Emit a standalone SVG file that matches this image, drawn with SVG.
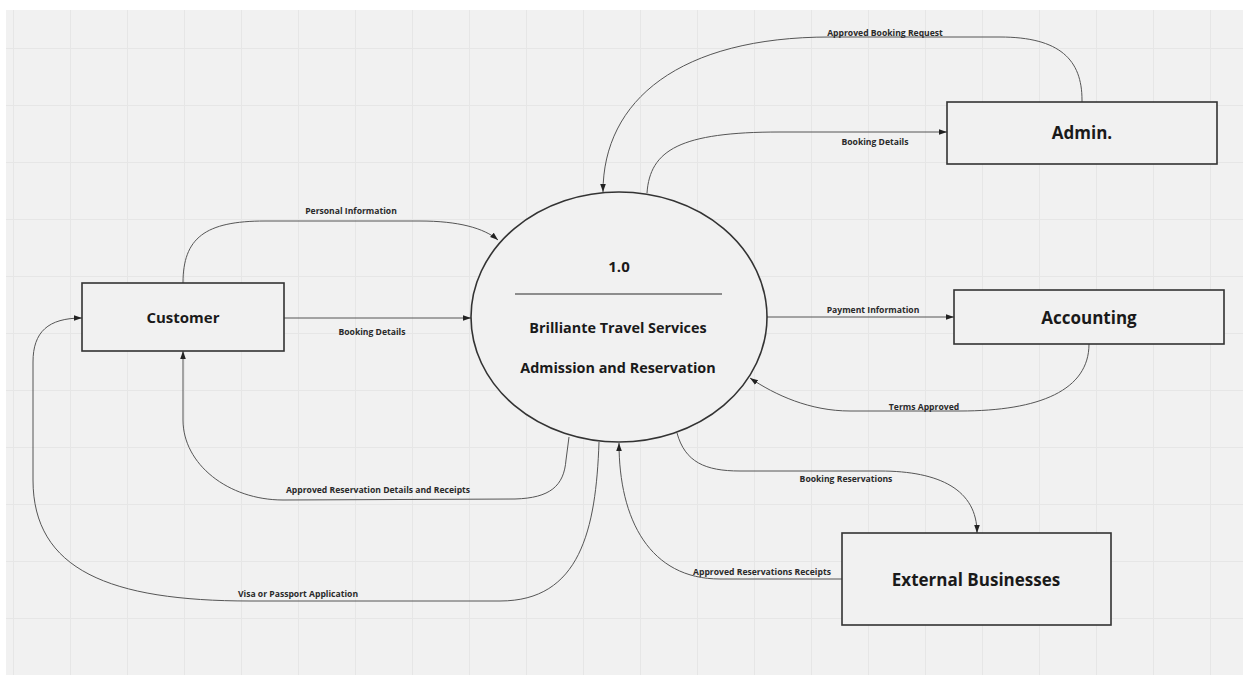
<svg xmlns="http://www.w3.org/2000/svg" width="1243" height="677" viewBox="0 0 1243 677">
  <defs>
    <pattern id="grid" x="13" y="48" width="57" height="57" patternUnits="userSpaceOnUse">
      <path d="M0.5,0 V57 M0,0.5 H57" fill="none" stroke="#e6e6e6" stroke-width="1"/>
    </pattern>
    <marker id="arrow" viewBox="0 0 10 10" refX="10" refY="5" markerWidth="8" markerHeight="8" markerUnits="userSpaceOnUse" orient="auto">
      <path d="M0,1.5 L10,5 L0,8.5 Z" fill="#222"/>
    </marker>
    <style>
      .node { fill: #f1f1f1; stroke: #333; stroke-width: 1.6; }
      .title { font-family: "Open Sans", "Liberation Sans", sans-serif; font-weight: 700; fill: #1a1a1a; text-anchor: middle; }
      .flow { fill: none; stroke: #555; stroke-width: 1; }
      .label { font-family: "Open Sans", "Liberation Sans", sans-serif; font-weight: 700; font-size: 8.6px; fill: #2a2a2a; text-anchor: middle; }
    </style>
  </defs>

  <!-- canvas -->
  <rect x="0" y="0" width="1243" height="677" fill="#ffffff"/>
  <rect x="6" y="10" width="1237" height="665" fill="#f1f1f1"/>
  <rect x="6" y="10" width="1237" height="665" fill="url(#grid)"/>

  <!-- data flows -->
  <g id="connectors">
    <!-- Customer -> process: Personal Information -->
    <path class="flow" marker-end="url(#arrow)" d="M183,283 C183,238 205,221 265,221 L420,221 C458,221 484,228 498,240"/>
    <text class="label" x="351" y="214">Personal Information</text>

    <!-- Customer -> process: Booking Details -->
    <path class="flow" marker-end="url(#arrow)" d="M284,318 L471,318"/>
    <text class="label" x="372" y="335">Booking Details</text>

    <!-- Admin -> process: Approved Booking Request -->
    <path class="flow" marker-end="url(#arrow)" d="M1082,102 L1082,100 C1082,60 1060,37 1000,37 L830,37 C680,37 603,100 603,192"/>
    <text class="label" x="885" y="36">Approved Booking Request</text>

    <!-- process -> Admin: Booking Details -->
    <path class="flow" marker-end="url(#arrow)" d="M647,193 C650,150 680,132 780,132 L947,132"/>
    <text class="label" x="875" y="145">Booking Details</text>

    <!-- process -> Accounting: Payment Information -->
    <path class="flow" marker-end="url(#arrow)" d="M767,317 L954,317"/>
    <text class="label" x="873" y="313">Payment Information</text>

    <!-- Accounting -> process: Terms Approved -->
    <path class="flow" marker-end="url(#arrow)" d="M1089,344 C1089,390 1040,411 960,411 L850,411 C810,411 775,395 750,378"/>
    <text class="label" x="924" y="410">Terms Approved</text>

    <!-- process -> Customer: Approved Reservation Details and Receipts -->
    <path class="flow" marker-end="url(#arrow)" d="M569,437 L566,460 C564,486 550,498 515,499 L283,500 C228,500 183,464 183,420 L183,351"/>
    <text class="label" x="378" y="493">Approved Reservation Details and Receipts</text>

    <!-- process -> Customer: Visa or Passport Application -->
    <path class="flow" marker-end="url(#arrow)" d="M599,442 C596,530 580,601 500,601 L250,601 C110,601 33,570 33,480 L33,362 C33,332 48,318 82,318"/>
    <text class="label" x="298" y="597">Visa or Passport Application</text>

    <!-- External Businesses -> process: Approved Reservations Receipts -->
    <path class="flow" marker-end="url(#arrow)" d="M842,579 L720,579 C650,579 619,520 619,443"/>
    <text class="label" x="762" y="575">Approved Reservations Receipts</text>

    <!-- process -> External Businesses: Booking Reservations -->
    <path class="flow" marker-end="url(#arrow)" d="M677,433 C685,462 705,471 740,471 L880,471 C940,471 977,490 977,533"/>
    <text class="label" x="846" y="482">Booking Reservations</text>
  </g>

  <!-- process 1.0 -->
  <g id="process">
    <ellipse class="node" cx="619" cy="317" rx="148" ry="125"/>
    <text class="title" x="619" y="272" font-size="15">1.0</text>
    <line x1="515" y1="294" x2="722" y2="294" stroke="#2a2a2a" stroke-width="1.2"/>
    <text class="title" x="618" y="333" font-size="14.4">Brilliante Travel Services</text>
    <text class="title" x="618" y="373" font-size="14.4">Admission and Reservation</text>
  </g>

  <!-- external entities -->
  <g id="customer">
    <rect class="node" x="82" y="283" width="202" height="68"/>
    <text class="title" x="183" y="323" font-size="15">Customer</text>
  </g>

  <g id="admin">
    <rect class="node" x="947" y="102" width="270" height="62"/>
    <text class="title" x="1082" y="139" font-size="17">Admin.</text>
  </g>

  <g id="accounting">
    <rect class="node" x="954" y="290" width="270" height="54"/>
    <text class="title" x="1089" y="324" font-size="17">Accounting</text>
  </g>

  <g id="external-businesses">
    <rect class="node" x="842" y="533" width="269" height="92"/>
    <text class="title" x="976" y="586" font-size="17">External Businesses</text>
  </g>
</svg>
